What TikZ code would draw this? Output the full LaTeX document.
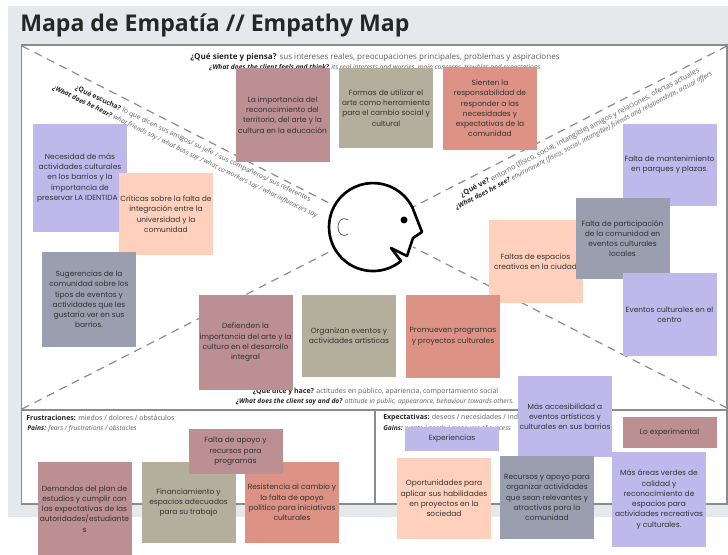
\documentclass[tikz,border=0pt]{standalone}
\usepackage{fontspec}
\setmainfont{Open Sans}
\newfontfamily\notefont{Poppins}
\definecolor{panelgrey}{HTML}{E6E9EC}
\definecolor{rulegrey}{HTML}{8C8C8C}
\definecolor{lilac}{HTML}{BFB8EA}
\definecolor{peach}{HTML}{FFD0BB}
\definecolor{slate}{HTML}{9A9EAE}
\definecolor{rose}{HTML}{BC8F92}
\definecolor{taupe}{HTML}{B4AE9C}
\definecolor{salmon}{HTML}{DC9285}
\definecolor{inkgrey}{HTML}{5F5F5F}
\begin{document}
\begin{tikzpicture}[x=0.75pt,y=0.75pt,yscale=-1,xscale=1,
    note/.style={inner sep=0pt,align=center,text=black!80,font=\notefont\fontsize{5.6}{7.7}\selectfont,minimum width=70.5pt},
    hint/.style={inner sep=0pt,text=inkgrey,font=\fontsize{#1}{7}\selectfont},
    hint/.default=5.25,
    hintsmall/.style={inner sep=0pt,text=inkgrey,font=\fontsize{5}{6}\itshape\selectfont},
    spoke/.style={draw=rulegrey,line width=0.9pt,dash pattern={on 6pt off 4.5pt}}]
\useasboundingbox (0,0) rectangle (728,555);
% background
\fill [panelgrey] (8,6) rectangle (728,517);
\fill [white] (21.5,45) rectangle (727,504);
\draw [rulegrey,line width=1.1pt] (21.5,45) rectangle (727,504);
\draw [rulegrey,line width=1.1pt] (21.5,410) -- (727,410);
\draw [rulegrey,line width=1.1pt] (375,410) -- (375,504);
\node (title) [anchor=west,inner sep=0pt,text=black!85,font=\fontsize{17.3}{20}\bfseries\selectfont] at (20,25) {Mapa de Empatía // Empathy Map};
% spokes
\coordinate (cornerNW) at (22,46);
\coordinate (cornerSW) at (22,409);
\coordinate (cornerNE) at (727,46);
\coordinate (cornerSE) at (727,408);
\coordinate (faceNW) at (333,205);
\coordinate (faceSW) at (333,250);
\coordinate (faceNE) at (413,207);
\coordinate (faceSE) at (413,247);
\draw [spoke] (cornerNW) -- (faceNW);
\draw [spoke] (cornerSW) -- (faceSW);
\draw [spoke] (cornerNE) -- (faceNE);
\draw [spoke] (cornerSE) -- (faceSE);
% head
\draw [line width=2pt,line join=round] (401,261) arc [start angle=50.5,end angle=333.4,radius=44] -- (422,232) -- (413,238) -- (407,256) -- (391,248) -- cycle;
\fill (404,220) circle [radius=3.5];
\draw [inkgrey,line width=0.6pt] (348,220) .. controls (341,216) and (338,222) .. (338,227) .. controls (338,233) and (342,238) .. (348,234);
% headings
\node (feelEs) [hint=6.05] at (375,57) {\textbf{\color{black!85}¿Qué siente y piensa?} sus intereses reales, preocupaciones principales, problemas y aspiraciones};
\node (feelEn) [hintsmall] at (375,67.5) {\textbf{\color{black!85}¿What does the client feels and think?} its real interests and worries, main concerns, troubles and expectations};
\node (hearEs) [hint=5.1,rotate=-25.6] at (193,144) {\textbf{\color{black!85}¿Qué escucha?} lo que dicen sus amigos/ su jefe / sus compañeros/ sus referentes};
\node (hearEn) [hintsmall,rotate=-26] at (185,152) {\textbf{\color{black!85}¿What does he hear?} what friends say / what boss say / what co-workers say / what influencers say};
\node (seeEs) [hint=5.4,rotate=27.7] at (580,133) {\textbf{\color{black!85}¿Qué ve?} entorno (físico, social, intangible) amigos y relaciones, ofertas actuales};
\node (seeEn) [hintsmall,rotate=27.8] at (584,141) {\textbf{\color{black!85}¿What does he see?} environment (físico, social, intangible) friends and relationships, actual offers};
\node (sayEs) [hint] at (375.5,392) {\textbf{\color{black!85}¿Que dice y hace?} actitudes en público, apariencia, comportamiento social};
\node (sayEn) [hintsmall] at (375,402) {\textbf{\color{black!85}¿What does the client say and do?} attitude in public, appearance, behaviour towards others.};
\node (painEs) [hint,anchor=west] at (26,418) {\textbf{\color{black!85}Frustraciones:} miedos / dolores / obstáculos};
\node (painEn) [hintsmall,anchor=west] at (27,429) {\textbf{\color{black!85}Pains:} fears / frustrations / obstacles};
\node (gainEs) [hint,anchor=west] at (383,418) {\textbf{\color{black!85}Expectativas:} deseos / necesidades / indicadores};
\node (gainEn) [hintsmall,anchor=west] at (383,428.5) {\textbf{\color{black!85}Gains:} wants / needs / measures of success};
% notes
\node (importancia) [note,fill=rose,minimum height=70.5pt] at (282.5,115) {La importancia del\\reconocimiento del\\territorio, del arte y la\\cultura en la educación};
\node (formas) [note,fill=taupe,minimum height=60pt] at (386,108) {Formas de utilizar el\\arte como herramienta\\para el cambio social y\\cultural};
\node (sienten) [note,fill=salmon,minimum height=62pt] at (490,108.5) {Sienten la\\responsabilidad de\\responder a las\\necesidades y\\expectativas de la\\comunidad};
\node (necesidad) [note,fill=lilac,minimum height=81pt] at (80,178) {Necesidad de más\\actividades culturales\\en los barrios y la\\importancia de\\preservar LA IDENTIDA\phantom{D}};
\node (criticas) [note,fill=peach,minimum height=61.5pt] at (166,214) {Críticas sobre la falta de\\integración entre la\\universidad y la\\comunidad};
\node (sugerencias) [note,fill=slate,minimum height=71pt] at (89,299.5) {Sugerencias de la\\comunidad sobre los\\tipos de eventos y\\actividades que les\\gustaría ver en sus\\barrios.};
\node (mantenimiento) [note,fill=lilac,minimum height=61.5pt] at (669.5,165) {Falta de mantenimiento\\en parques y plazas.};
\node (espacios) [note,fill=peach,minimum height=62pt] at (535.5,261.5) {Faltas de espacios\\creativos en la ciudad};
\node (participacion) [note,fill=slate,minimum height=61pt] at (622.5,238.5) {Falta de participación\\de la comunidad en\\eventos culturales\\locales};
\node (eventos) [note,fill=lilac,minimum height=62pt] at (669.5,314.5) {Eventos culturales en el\\centro};
\node (defienden) [note,fill=rose,minimum height=71pt] at (245.5,342.5) {Defienden la\\importancia del arte y la\\cultura en el desarrollo\\integral};
\node (organizan) [note,fill=taupe,minimum height=61.5pt] at (349,336) {Organizan eventos y\\actividades artísticas};
\node (promueven) [note,fill=salmon,minimum height=62pt] at (453,336.5) {Promueven programas\\y proyectos culturales};
\node (demandas) [note,fill=rose,minimum height=70.5pt] at (84.5,509) {Demandas del plan de\\estudios y cumplir con\\las expectativas de las\\autoridades/estudiante\\s};
\node (financiamiento) [note,fill=taupe,minimum height=61pt] at (188.5,502.5) {Financiamiento y\\espacios adecuados\\para su trabajo};
\node (resistencia) [note,fill=salmon,minimum height=61pt] at (292,502.5) {Resistencia al cambio y\\la falta de apoyo\\político para iniciativas\\culturales};
\node (apoyo) [note,fill=rose,minimum height=34pt] at (235.5,451.5) {Falta de apoyo y\\recursos para\\programas};
\node (experiencias) [note,fill=lilac,minimum height=18pt] at (452,439) {Experiencias};
\node (accesibilidad) [note,fill=lilac,minimum height=61pt] at (565,416.5) {Más accesibilidad a\\eventos artísticos y\\culturales en sus barrios};
\node (experimental) [note,fill=rose,minimum height=23pt] at (669.5,432.5) {Lo experimental};
\node (oportunidades) [note,fill=peach,minimum height=61pt] at (444,498.5) {Oportunidades para\\aplicar sus habilidades\\en proyectos en la\\sociedad};
\node (recursos) [note,fill=slate,minimum height=62pt] at (547,497.5) {Recursos y apoyo para\\organizar actividades\\que sean relevantes y\\atractivas para la\\comunidad};
\node (areas) [note,fill=lilac,minimum height=71pt] at (659,499.5) {Más áreas verdes de\\calidad y\\reconocimiento de\\espacios para\\actividades recreativas\\y culturales.};
\end{tikzpicture}
\end{document}
